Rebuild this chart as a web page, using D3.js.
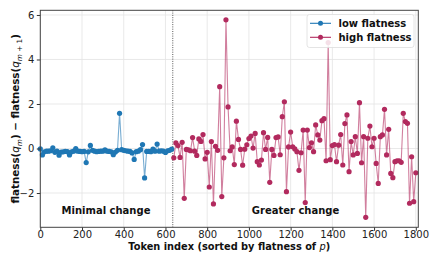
<!DOCTYPE html>
<html><head><meta charset="utf-8">
<script src="https://cdn.jsdelivr.net/npm/d3@7"></script>
<style>
html,body{margin:0;padding:0;background:#fff;}
svg text{font-family:"DejaVu Sans",sans-serif;}
</style></head>
<body><svg id="c" width="439" height="263"></svg>
<script>
// ---- data ----
const xTicks = [0,200,400,600,800,1000,1200,1400,1600,1800];
const yTicks = [-2,0,2,4,6];
const lowStart = 0, highStart = 640, step = 10;
const splitX = 635;
const lowValues = [-0.02,-0.29,-0.15,-0.12,-0.12,-0.10,0.03,-0.17,-0.12,-0.30,
 -0.16,-0.15,-0.13,-0.14,-0.29,-0.15,-0.12,0.00,-0.12,-0.13,
 -0.14,-0.13,-0.63,-0.15,0.14,-0.08,-0.12,-0.14,-0.13,-0.12,
 -0.12,-0.06,-0.12,-0.13,-0.15,-0.28,-0.16,-0.08,1.58,-0.05,
 -0.08,-0.10,-0.12,-0.13,-0.20,-0.49,-0.14,-0.12,-0.05,0.18,
 -1.32,-0.13,-0.13,-0.14,-0.03,-0.12,0.20,-0.12,-0.10,-0.12,
 -0.18,-0.10,-0.08,-0.03];
const highValues = [-0.42,0.25,0.13,-0.40,0.28,-2.24,-0.04,-0.06,-0.10,0.49,
 -0.12,-0.31,0.43,0.32,0.63,-0.47,-0.17,-1.73,0.31,-2.49,
 0.10,-0.08,2.78,-2.16,-0.42,5.78,1.87,-0.10,0.07,-0.72,
 1.23,0.41,-0.04,-0.75,-0.03,0.17,0.45,0.56,0.02,0.68,
 -0.59,-0.74,-0.52,0.71,-0.04,0.50,-1.52,-0.04,-0.31,0.49,
 0.52,-0.28,1.43,2.10,-1.94,0.07,0.74,0.08,-0.02,-0.14,
 -0.98,-0.19,0.83,-2.43,0.83,0.04,0.26,-0.14,1.06,0.61,
 0.38,1.25,1.34,-0.55,4.76,-0.50,0.13,0.18,-0.59,0.15,
 0.63,-0.74,1.12,1.51,-1.04,0.31,-0.29,0.53,-0.22,2.06,
 -0.64,0.53,-3.09,0.46,1.01,0.08,0.46,-0.67,-1.57,0.53,
 0.61,1.76,-0.29,0.86,-1.12,-1.31,-0.59,-0.55,-0.55,-0.62,
 1.58,1.21,1.13,-2.46,-0.37,-2.39,-1.09];
const seriesNames = ["low flatness","high flatness"];
const annotations = ["Minimal change","Greater change"];

// ---- layout ----
const L=40.3, R=418.3, T=10.3, B=227.3;
const blue="#1f77b4", red="#b22a5e";
const svg=d3.select("#c");
const x=d3.scaleLinear().domain([0,1812]).range([L,R]);
const y=d3.scaleLinear().domain([-3.54,6.21]).range([B,T]);

const low=lowValues.map((v,i)=>({x:lowStart+i*step,y:v}));
const high=highValues.map((v,i)=>({x:highStart+i*step,y:v}));

// grid
const g=svg.append("g");
g.selectAll(".gx").data(xTicks).join("line").attr("x1",d=>x(d)).attr("x2",d=>x(d)).attr("y1",T).attr("y2",B)
 .attr("stroke","#e3e3e3").attr("stroke-width",0.8);
g.selectAll(".gy").data(yTicks).join("line").attr("y1",d=>y(d)).attr("y2",d=>y(d)).attr("x1",L).attr("x2",R)
 .attr("stroke","#e3e3e3").attr("stroke-width",0.8);

// split line
svg.append("line").attr("x1",x(splitX)).attr("x2",x(splitX)).attr("y1",T).attr("y2",B)
 .attr("stroke","#444").attr("stroke-width",0.9).attr("stroke-dasharray","1,1.3");

const line=d3.line().x(d=>x(d.x)).y(d=>y(d.y));
function drawSeries(data,col){
  svg.append("path").datum(data).attr("d",line).attr("fill","none").attr("stroke",col)
   .attr("stroke-width",1.1).attr("stroke-opacity",0.6);
  svg.append("g").selectAll("circle").data(data).join("circle")
   .attr("cx",d=>x(d.x)).attr("cy",d=>y(d.y)).attr("r",2.6).attr("fill",col);
}
drawSeries(low,blue);
drawSeries(high,red);

// axes
const ax=svg.append("g").attr("transform",`translate(0,${B})`)
 .call(d3.axisBottom(x).tickValues(xTicks).tickSize(3.5).tickPadding(0).tickFormat(d3.format("d")));
const ay=svg.append("g").attr("transform",`translate(${L},0)`)
 .call(d3.axisLeft(y).tickValues(yTicks).tickSize(3.5).tickPadding(2.5).tickFormat(d=>d<0?"\u2212"+Math.abs(d):d));
[ax,ay].forEach(a=>{a.select(".domain").remove();
 a.selectAll("text").attr("font-size","10px").attr("fill","#222").style("font-family","DejaVu Sans");
 a.selectAll("line").attr("stroke","#333");});

// frame
svg.append("rect").attr("x",L).attr("y",T).attr("width",R-L).attr("height",B-T)
 .attr("fill","none").attr("stroke","#444").attr("stroke-width",1);

// labels
svg.append("text").attr("x",(L+R)/2).attr("y",250).attr("text-anchor","middle")
 .attr("font-size","9.8px").attr("font-weight","bold").attr("fill","#111")
 .call(t=>{t.append("tspan").text("Token index (sorted by flatness of ");
   t.append("tspan").attr("font-style","italic").attr("font-weight","normal").text("p");
   t.append("tspan").text(")");});
const yl=svg.append("text").attr("transform",`translate(19,${(T+B)/2}) rotate(-90)`).attr("text-anchor","middle")
 .attr("font-size","10.3px").attr("font-weight","bold").attr("fill","#111");
yl.append("tspan").text("flatness(");
yl.append("tspan").attr("font-style","italic").attr("font-weight","normal").text("q");
yl.append("tspan").attr("font-style","italic").attr("font-weight","normal").attr("font-size","7.3px").attr("dy","2.5").text("m");
yl.append("tspan").attr("dy","-2.5").text(") \u2212 flatness(");
yl.append("tspan").attr("font-style","italic").attr("font-weight","normal").text("q");
yl.append("tspan").attr("font-weight","normal").attr("font-size","7.3px").attr("dy","2.5")
 .html('<tspan font-style="italic">m</tspan> + 1');
yl.append("tspan").attr("dy","-2.5").text(")");

// annotations
svg.append("text").attr("x",106).attr("y",214).attr("text-anchor","middle").attr("font-size","10px")
 .attr("font-weight","bold").attr("fill","#111").text(annotations[0]);
svg.append("text").attr("x",295.5).attr("y",214).attr("text-anchor","middle").attr("font-size","10px")
 .attr("font-weight","bold").attr("fill","#111").text(annotations[1]);

// legend
const lg=svg.append("g");
lg.append("rect").attr("x",307).attr("y",14.5).attr("width",107).attr("height",33).attr("rx",2.5)
 .attr("fill","#fff").attr("fill-opacity",0.85).attr("stroke","#ddd").attr("stroke-width",0.8);
[[blue,seriesNames[0],23.3],[red,seriesNames[1],37.3]].forEach(([c,n,yy])=>{
  lg.append("line").attr("x1",310).attr("x2",331).attr("y1",yy).attr("y2",yy).attr("stroke",c).attr("stroke-width",1.1);
  lg.append("circle").attr("cx",320.5).attr("cy",yy).attr("r",2.5).attr("fill",c);
  lg.append("text").attr("x",338.5).attr("y",yy+3.6).attr("font-size","10px").attr("font-weight","bold")
   .attr("fill","#111").text(n);
});
</script></body></html>
